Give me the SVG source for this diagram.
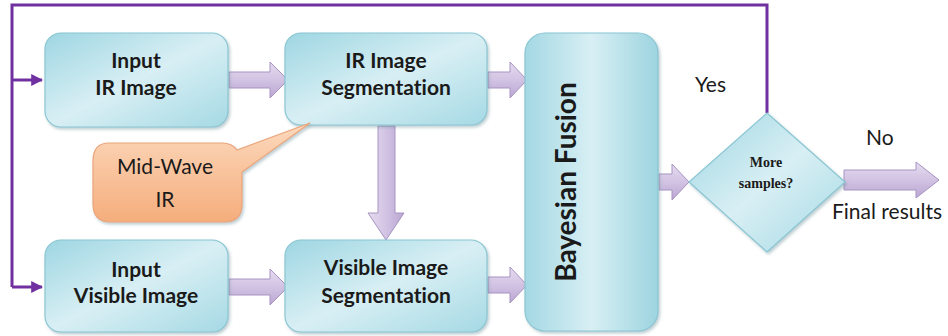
<svg xmlns="http://www.w3.org/2000/svg" width="948" height="336" viewBox="0 0 948 336">
<defs>
<linearGradient id="gBox" x1="0" y1="0" x2="1" y2="1">
<stop offset="0" stop-color="#9ed6e2"/>
<stop offset="0.5" stop-color="#d8eff4"/>
<stop offset="1" stop-color="#a5d9e4"/>
</linearGradient>
<linearGradient id="gTall" x1="0" y1="0" x2="1" y2="0">
<stop offset="0" stop-color="#a4d8e3"/>
<stop offset="0.5" stop-color="#d8eff4"/>
<stop offset="1" stop-color="#9dd4e0"/>
</linearGradient>
<linearGradient id="gOrange" x1="0" y1="0" x2="0" y2="1">
<stop offset="0" stop-color="#fcd9bd"/>
<stop offset="1" stop-color="#f5ad7c"/>
</linearGradient>
<linearGradient id="gArrowH" x1="0" y1="0" x2="0" y2="1">
<stop offset="0" stop-color="#e6dcf0"/>
<stop offset="0.5" stop-color="#d2c3e3"/>
<stop offset="1" stop-color="#bba6d2"/>
</linearGradient>
<linearGradient id="gArrowV" x1="0" y1="0" x2="1" y2="0">
<stop offset="0" stop-color="#e6dcf0"/>
<stop offset="0.5" stop-color="#d2c3e3"/>
<stop offset="1" stop-color="#bba6d2"/>
</linearGradient>
<filter id="sh" x="-10%" y="-10%" width="125%" height="125%">
<feDropShadow dx="1.5" dy="2" stdDeviation="1.5" flood-color="#6a8f99" flood-opacity="0.45"/>
</filter>
<marker id="ah" viewBox="0 0 10 10" refX="9" refY="5" markerWidth="4" markerHeight="4" orient="auto" markerUnits="strokeWidth">
<path d="M0,0 L10,5 L0,10 z" fill="#7030a0"/>
</marker>
</defs>
<style>
text{font-variant-ligatures:none}
.box{fill:url(#gBox);stroke:#8ac6d3;stroke-width:1.2;filter:url(#sh)}
.t{font-family:Lato,"Open Sans","Liberation Sans",sans-serif;font-weight:bold;font-size:21px;fill:#1a1a1a;text-anchor:middle}
.lbl{font-family:Lato,"Open Sans","Liberation Sans",sans-serif;font-size:21px;fill:#1a1a1a}
.ser{font-family:"Liberation Serif",serif;font-weight:bold;font-size:14px;fill:#1a1a1a;text-anchor:middle}
.ah{fill:url(#gArrowH);stroke:#a793c2;stroke-width:1}
.av{fill:url(#gArrowV);stroke:#a793c2;stroke-width:1}
.pl{fill:none;stroke:#7030a0;stroke-width:3}
</style>

<g id="connectors">
<path class="pl" d="M767,113 V5 H12 V287"/>
<path class="pl" d="M12,80 H42" marker-end="url(#ah)"/>
<path class="pl" d="M12,287 H42" marker-end="url(#ah)"/>
<path class="ah" d="M229,72 H270 V62 L288,80 L270,98 V88 H229 z"/>
<path class="ah" d="M488,72 H510 V62 L527,80 L510,98 V88 H488 z"/>
<path class="av" d="M378,126 V213 H368 L386,240 L404,213 H395 V126 z"/>
<path class="ah" d="M229,279 H270 V269 L288,287 L270,305 V295 H229 z"/>
<path class="ah" d="M488,277 H510 V267 L527,285 L510,303 V293 H488 z"/>
<path class="ah" d="M659,174 H672 V164 L689,182 L672,200 V190 H659 z"/>
<path class="ah" d="M844,170 H916 V162 L939,180 L916,198 V190 H844 z"/>
</g>

<g id="input-ir">
<rect class="box" x="45" y="33" width="183" height="94" rx="16"/>
<text class="t" x="136" y="68">Input</text>
<text class="t" x="136" y="95">IR Image</text>
</g>

<g id="ir-seg">
<rect class="box" x="285" y="33" width="202" height="92" rx="16"/>
<text class="t" x="386" y="68">IR Image</text>
<text class="t" x="386" y="95">Segmentation</text>
</g>

<g id="midwave">
<path d="M109,143 H222 Q232,143 237,150 L310,123 L242,172 V204 Q242,222 224,222 H111 Q93,222 93,204 V161 Q93,143 109,143 z" fill="url(#gOrange)" stroke="#eba57a" stroke-width="1.2" filter="url(#sh)"/>
<text class="t" x="165" y="174" style="font-weight:normal">Mid-Wave</text>
<text class="t" x="165" y="207" style="font-weight:normal">IR</text>
</g>

<g id="input-vis">
<rect class="box" x="45" y="240" width="183" height="92" rx="16"/>
<text class="t" x="136" y="277">Input</text>
<text class="t" x="136" y="303">Visible Image</text>
</g>

<g id="vis-seg">
<rect class="box" x="285" y="240" width="202" height="92" rx="16"/>
<text class="t" x="386" y="275">Visible Image</text>
<text class="t" x="386" y="303">Segmentation</text>
</g>

<g id="bayes">
<rect class="box" x="525" y="33" width="133" height="298" rx="20" style="fill:url(#gTall)"/>
<text class="t" transform="translate(576,182) rotate(-90)" style="font-size:28px">Bayesian Fusion</text>
</g>

<g id="decision">
<path d="M767,113 L845,182 L767,252 L689,182 z" fill="url(#gBox)" stroke="#8ac6d3" stroke-width="1.2" filter="url(#sh)"/>
<text class="ser" x="766" y="167">More</text>
<text class="ser" x="766" y="188">samples?</text>
</g>

<g id="labels">
<text class="lbl" x="695" y="92">Yes</text>
<text class="lbl" x="866" y="145">No</text>
<text class="lbl" x="832" y="219">Final results</text>
</g>
</svg>
